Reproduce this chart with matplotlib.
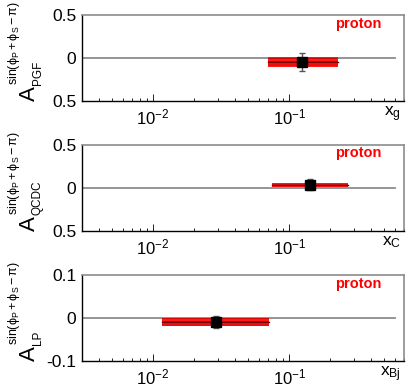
import matplotlib
matplotlib.use("Agg")
import matplotlib.pyplot as plt
from matplotlib.patches import Rectangle

plt.rcParams['font.family'] = ['Liberation Sans', 'DejaVu Sans']
plt.rcParams['mathtext.fontset'] = 'custom'
plt.rcParams['mathtext.rm'] = 'Liberation Sans'
plt.rcParams['mathtext.it'] = 'Liberation Sans'
plt.rcParams['mathtext.sf'] = 'Liberation Sans'
plt.rcParams['hatch.linewidth'] = 0.6

# data
processes = ["PGF", "QCDC", "LP"]
xlabels = [r"$\mathrm{x_{g}}$", r"$\mathrm{x_{C}}$", r"$\mathrm{x_{Bj}}$"]
x_mean = [0.124, 0.143, 0.0288]
asym = [-0.047, 0.035, -0.0093]
stat_err = [0.103, 0.065, 0.013]
sys_err = [0.060, 0.024, 0.0085]
x_low = [0.070, 0.075, 0.0116]
x_high = [0.229, 0.27, 0.0714]
y_lim = [0.5, 0.5, 0.1]
ytick_labels = [["0.5", "0", "0.5"], ["0.5", "0", "0.5"], ["-0.1", "0", "0.1"]]

fig = plt.figure(figsize=(4.12, 3.9), dpi=100)
bottoms = [0.741, 0.408, 0.0744]

for i in range(3):
    ax = fig.add_axes([0.199, bottoms[i], 0.782, 0.2205])
    ax.set_xscale("log")
    ax.set_xlim(0.003, 0.7)
    ax.set_ylim(-y_lim[i], y_lim[i])

    ax.plot([0.003, 0.6], [0, 0], color="#8c8c8c", lw=1.3, zorder=1)

    box = Rectangle((x_low[i], asym[i] - sys_err[i]), x_high[i] - x_low[i], 2 * sys_err[i],
                    facecolor="#ff1a1a", edgecolor="#c80000", hatch="-----", lw=0, zorder=2)
    ax.add_patch(box)
    ax.plot([x_low[i], x_high[i]], [asym[i], asym[i]], color="#7a0000", lw=1.0, zorder=3)

    ax.errorbar([x_mean[i]], [asym[i]], yerr=[stat_err[i]], fmt="s", color="black",
                ms=7, ecolor="#555555", elinewidth=1.0, capsize=2.5, zorder=4)

    ax.set_yticks([-y_lim[i], 0, y_lim[i]])
    labs = ytick_labels[i]
    ax.set_yticklabels([labs[2], labs[1], labs[0]] if i < 2 else labs, fontsize=12.5)
    ax.set_xticks([0.01, 0.1])
    ax.set_xticklabels([r"$10^{-2}$", r"$10^{-1}$"], fontsize=12)
    ax.tick_params(axis="both", which="both", direction="in", top=False, right=False)
    ax.tick_params(axis="x", which="major", length=5, width=0.6, pad=5)
    ax.tick_params(axis="x", which="minor", length=2.5, width=0.6)
    ax.tick_params(axis="y", which="major", length=0, pad=4)

    for s in ["top", "right"]:
        ax.spines[s].set_color("#8c8c8c")
        ax.spines[s].set_linewidth(1.2)
    for s in ["left", "bottom"]:
        ax.spines[s].set_linewidth(1.0)

    ax.text(0.857, 0.9, "proton", transform=ax.transAxes, color="red",
            fontsize=10.5, fontweight="bold", ha="center", va="center")
    ax.text(0.99, -0.04, xlabels[i], transform=ax.transAxes, fontsize=12.5,
            ha="right", va="top")

    # y label: big A with subscript and superscript placed by hand
    ax.text(-0.146, 0.0, "A", transform=ax.transAxes, rotation=90, rotation_mode="anchor",
            fontsize=16, ha="left", va="baseline")
    ax.text(-0.128, 0.185, processes[i], transform=ax.transAxes, rotation=90,
            rotation_mode="anchor", fontsize=8.5, ha="left", va="baseline")
    ax.text(-0.202, 0.19, r"$\mathrm{sin(\phi_{P}+\phi_{S}-\pi)}$", transform=ax.transAxes,
            rotation=90, rotation_mode="anchor", fontsize=9, ha="left", va="baseline")

fig.savefig("out.png", dpi=100)
